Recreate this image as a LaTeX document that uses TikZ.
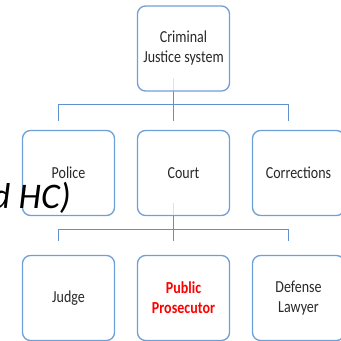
\documentclass[tikz,border=0pt]{standalone}
\usepackage{fontspec}
\setmainfont{Carlito}
\usetikzlibrary{backgrounds}

\definecolor{boxblue}{RGB}{110,160,215}
\definecolor{lineblue}{RGB}{95,145,205}
\definecolor{txtgray}{RGB}{40,40,40}

% вытянутый по вертикали текст
\newcommand{\tall}[1]{\scalebox{1}[1.2]{#1}}

\tikzset{
  unit/.style={draw=boxblue, line width=1.3pt, rounded corners=8pt,
    fill=white, fill opacity=0.75, text opacity=1, text=txtgray,
    minimum width=92pt, minimum height=85pt, outer sep=0pt, align=center,
    font=\fontsize{14}{20}\selectfont},
  link/.style={draw=lineblue, line width=1.4pt}
}

\begin{document}
\begin{tikzpicture}[x=1pt,y=-1pt]
	\useasboundingbox (0,0) rectangle (341,341);

	% уровень 1
	\node [unit] (system) at (183.5,48.5) {\tall{Criminal}\\\tall{Justice system}};

	% уровень 2
	\node [unit] (police) at (68.5,173) {\tall{Police}};
	\node [unit] (court) at (183.5,173) {\tall{Court}};
	\node [unit] (corr) at (298.5,173) {\tall{Corrections}};

	% уровень 3
	\node [unit] (judge) at (68.5,298) {\tall{Judge}};
	\node [unit, text=red, font=\fontsize{14}{20}\selectfont\bfseries] (prosec) at (183.5,298) {\tall{Public}\\\tall{Prosecutor}};
	\node [unit] (lawyer) at (298.5,298) {\tall{Defense}\\\tall{Lawyer}};

	% связи
	\begin{scope}[on background layer]
		\draw [link] ([xshift=-10pt,yshift=13pt]system.south) -- ([xshift=-10pt,yshift=10pt]court.north);
		\draw [link] ([xshift=-10pt,yshift=10pt]police.north) |- ([xshift=-10pt,yshift=26pt]corr.north) -- ([xshift=-10pt,yshift=10pt]corr.north);
		\draw [link] ([xshift=-10pt,yshift=13pt]court.south) -- ([xshift=-10pt,yshift=15pt]prosec.north);
		\draw [link] ([xshift=-10pt,yshift=15pt]judge.north) |- ([xshift=-10pt,yshift=26pt]lawyer.north) -- ([xshift=-10pt,yshift=15pt]lawyer.north);
	\end{scope}

	% текст слайда
	\node [anchor=base east, inner sep=0pt, font=\fontsize{36}{40}\selectfont\itshape] (slide) at (71,208) {d HC)};
\end{tikzpicture}
\end{document}
